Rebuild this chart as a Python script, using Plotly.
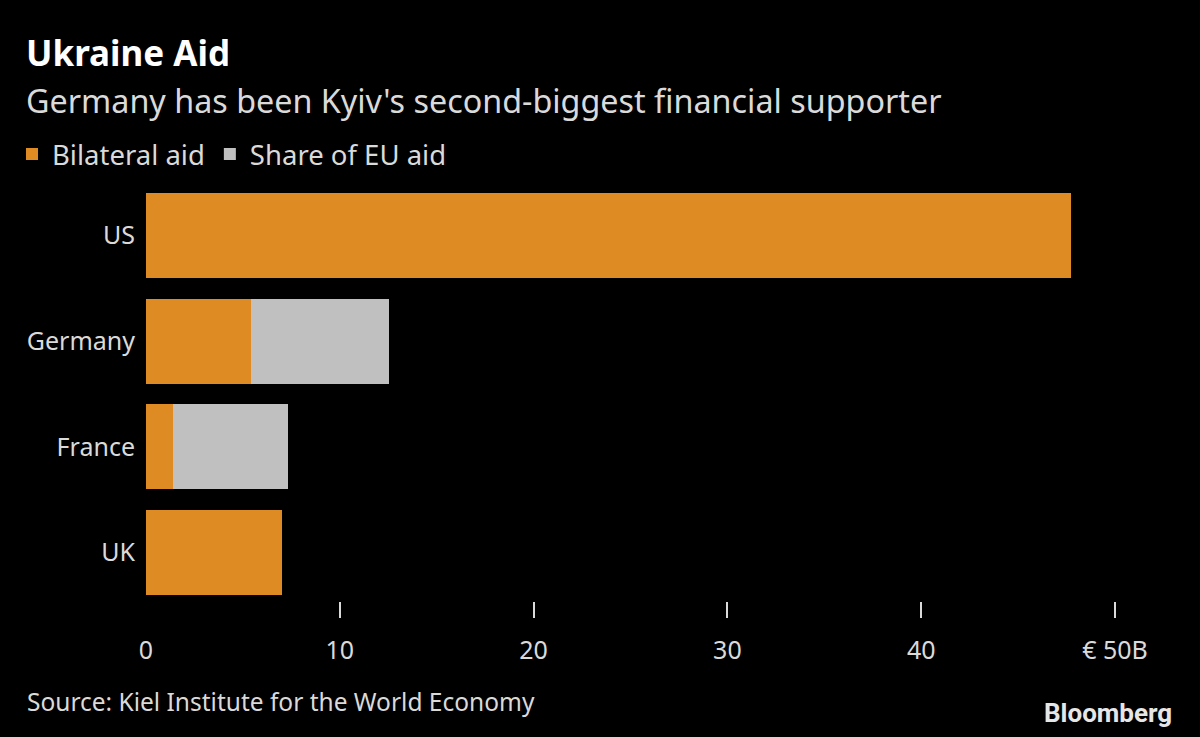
import plotly.graph_objects as go

countries = ["US", "Germany", "France", "UK"]
bilateral = [47.75, 5.42, 1.39, 7.02]
eu_share = [0, 7.13, 5.94, 0]
tick_vals = [0, 10, 20, 30, 40, 50]
tick_text = ["0", "10", "20", "30", "40", "€ 50B"]
mark_vals = [10, 20, 30, 40, 50]

ORANGE = "#DE8B24"
GRAY = "#C0C0C0"
TXT = "#DADADA"
FONT = "Noto Sans"

fig = go.Figure()
fig.add_trace(go.Bar(y=countries, x=bilateral, orientation="h", name="Bilateral aid",
                     marker=dict(color=ORANGE, line=dict(width=0))))
fig.add_trace(go.Bar(y=countries, x=eu_share, orientation="h", name="Share of EU aid",
                     marker=dict(color=GRAY, line=dict(width=0))))
# invisible helper trace so the tick-mark axis is drawn
fig.add_trace(go.Scatter(x=[None], y=[None], xaxis="x2", showlegend=False, hoverinfo="skip"))

W, H = 1200, 737
L, R, T, B = 146, 85, 182, 136
plot_h = H - T - B

def py(ypix):
    return (H - B - ypix) / plot_h

def px(xpix):
    return (xpix - L) / (W - L - R)

fig.update_layout(
    width=W, height=H,
    barmode="stack", bargap=0.196,
    paper_bgcolor="black", plot_bgcolor="black",
    margin=dict(l=L, r=R, t=T, b=B, autoexpand=False),
    font=dict(family=FONT, color=TXT, size=22),
    showlegend=True,
    legend=dict(orientation="h", xref="container", yref="container",
                x=12 / W, y=1 - 154 / H, xanchor="left", yanchor="middle",
                font=dict(size=27.5, color=TXT, family=FONT),
                bgcolor="rgba(0,0,0,0)", itemwidth=30, traceorder="normal"),
    xaxis=dict(range=[0, 50], tickvals=tick_vals, ticktext=tick_text,
               showgrid=False, zeroline=False, showline=False, ticks="",
               ticklabelstandoff=32, fixedrange=True,
               tickfont=dict(size=25, color=TXT, family=FONT)),
    xaxis2=dict(range=[0, 50], overlaying="x", anchor="y", side="bottom",
                tickvals=mark_vals, showticklabels=False, ticks="outside",
                ticklen=16, tickwidth=1.5, tickcolor=TXT,
                showgrid=False, zeroline=False, showline=False),
    yaxis=dict(range=[3.458, -0.506], showgrid=False, zeroline=False, showline=False,
               ticks="", ticklabelstandoff=10, fixedrange=True,
               tickfont=dict(size=25, color=TXT, family=FONT)),
)

fig.add_annotation(text="<b>Ukraine Aid</b>", xref="paper", yref="paper",
                   x=px(25), y=py(77), xanchor="left", yanchor="bottom", showarrow=False,
                   font=dict(size=35, color="white", family=FONT), borderpad=0)
fig.add_annotation(text="Germany has been Kyiv's second-biggest financial supporter",
                   xref="paper", yref="paper", x=px(25), y=py(77), xanchor="left",
                   yanchor="top", showarrow=False,
                   font=dict(size=32.3, color=TXT, family=FONT), borderpad=0)
fig.add_annotation(text="Source: Kiel Institute for the World Economy",
                   xref="paper", yref="paper", x=px(25), y=py(701), xanchor="left",
                   yanchor="middle", showarrow=False,
                   font=dict(size=24.5, color=TXT, family=FONT))
fig.add_annotation(text="<b>Bloomberg</b>", xref="paper", yref="paper",
                   x=px(1174), y=py(713), xanchor="right", yanchor="middle",
                   showarrow=False,
                   font=dict(size=26, color="#E6E6E6", family="Roboto"))

fig.write_html("out.html", config={"displayModeBar": False},
               post_script="document.body.style.margin='0';document.body.style.padding='0';")
